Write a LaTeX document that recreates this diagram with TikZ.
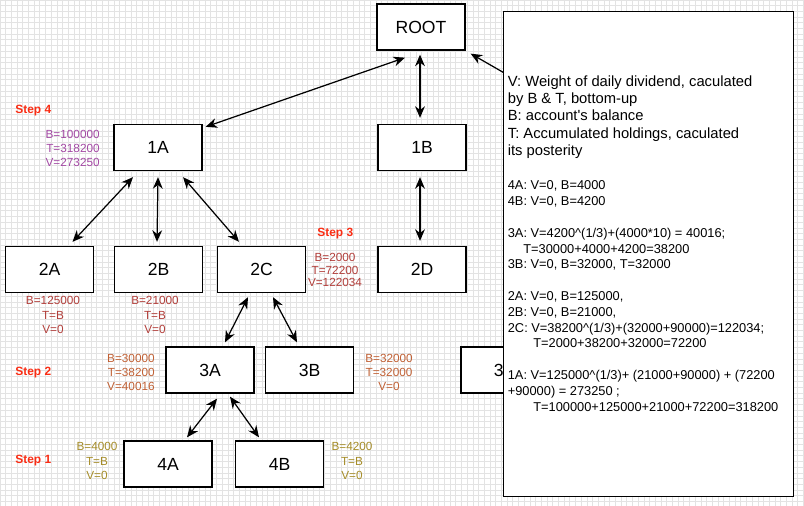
\documentclass[tikz,border=0pt]{standalone}
\usepackage{fontspec}
\setmainfont{Liberation Sans}
\usetikzlibrary{arrows.meta}
\definecolor{steptext}{RGB}{250,45,20}
\definecolor{lvone}{RGB}{163,73,164}
\definecolor{lvtwo}{RGB}{178,62,58}
\definecolor{lvthree}{RGB}{192,96,52}
\definecolor{lvfour}{RGB}{165,140,40}

\begin{document}
\begin{tikzpicture}[x=0.02cm, y=-0.02cm]
\tikzset{every node/.style={font=\fontsize{10}{12}\selectfont},
    acct/.style={draw, line width=0.75pt, fill=white, minimum width=1.76cm, minimum height=0.92cm, inner sep=0pt},
    link/.style={{Stealth[length=6.6pt,width=5.6pt]}-{Stealth[length=6.6pt,width=5.6pt]}, line width=0.7pt},
    steplbl/.style={anchor=west, inner sep=0pt, text=steptext, font=\fontsize{6.8}{8}\selectfont\bfseries},
    vals/.style={inner sep=0pt, align=center, font=\fontsize{6.7}{8.1}\selectfont},
    notebox/.style={draw, line width=0.6pt, fill=white, anchor=north west, minimum width=5.8cm, minimum height=9.7cm},
    notetext/.style={anchor=north west, inner sep=0pt, align=left}}
    \useasboundingbox (0,0) rectangle (804,506);
    \draw[draw=black!11, line width=0.5pt, step=0.114cm] (0,506) grid (804,0);

    \node[acct] (root) at (421,27) {ROOT};
    \node[acct] (a1) at (158,147.5) {1A};
    \node[acct] (b1) at (422,147.5) {1B};
    \node[acct] (a2) at (49.5,269.5) {2A};
    \node[acct] (b2) at (158.5,269.5) {2B};
    \node[acct] (c2) at (261.5,269.5) {2C};
    \node[acct] (d2) at (422,269.5) {2D};
    \node[acct] (a3) at (210,370) {3A};
    \node[acct] (b3) at (309.5,370) {3B};
    \node[acct] (c3) at (505,370) {3C};
    \node[acct] (a4) at (168,464) {4A};
    \node[acct] (b4) at (279.5,464) {4B};
    \coordinate (hid) at (560,105);

    \draw[link] ([shift={(3,3)}]a1.north east) -- ([shift={(-16,7)}]root.south);
    \draw[link] ([shift={(-1,4)}]root.south) -- ([shift={(-2,-6)}]b1.north);
    \draw[link] ([shift={(5,3)}]root.south east) -- (hid);
    \draw[link] ([shift={(-25,6)}]a1.south) -- ([shift={(23,-4)}]a2.north);
    \draw[link] ([shift={(0,6)}]a1.south) -- ([shift={(-1.5,-4)}]b2.north);
    \draw[link] ([shift={(25,6)}]a1.south) -- ([shift={(-22.5,-4)}]c2.north);
    \draw[link] ([shift={(-2,6)}]b1.south) -- ([shift={(-2,-5)}]d2.north);
    \draw[link] ([shift={(-13.5,4)}]c2.south) -- ([shift={(15,-4)}]a3.north);
    \draw[link] ([shift={(11.5,4)}]c2.south) -- ([shift={(-12.5,-4)}]b3.north);
    \draw[link] ([shift={(7,5)}]a3.south) -- ([shift={(19,-3)}]a4.north);
    \draw[link] ([shift={(20,3)}]a3.south) -- ([shift={(-20.5,-3)}]b4.north);

    \node[steplbl] (s4) at (15,111) {Step 4};
    \node[steplbl] (s3) at (317,234) {Step 3};
    \node[steplbl] (s2) at (15,373) {Step 2};
    \node[steplbl] (s1) at (15,461) {Step 1};

    \node[vals, text=lvone, anchor=east, align=right] (a1v) at (100,148.5) {B=100000\\T=318200\\V=273250};
    \node[vals, text=lvtwo] (a2v) at (53,315) {B=125000\\T=B\\V=0};
    \node[vals, text=lvtwo] (b2v) at (155,315) {B=21000\\T=B\\V=0};
    \node[vals, text=lvtwo, font=\fontsize{6.7}{7.3}\selectfont] (c2v) at (335,270) {B=2000\\T=72200\\V=122034};
    \node[vals, text=lvthree, anchor=east, align=right] (a3v) at (155,372.5) {B=30000\\T=38200\\V=40016};
    \node[vals, text=lvthree] (b3v) at (389,372.5) {B=32000\\T=32000\\V=0};
    \node[vals, text=lvfour] (a4v) at (97,461) {B=4000\\T=B\\V=0};
    \node[vals, text=lvfour] (b4v) at (352,461) {B=4200\\T=B\\V=0};

    \node[notebox] (notes) at (503,11) {};
    \node[notetext, font=\fontsize{8.4}{9.9}\selectfont] (legend) at (507.5,75) {V: Weight of daily dividend, caculated\\by B \& T, bottom-up\\B: account\textquotesingle s balance\\T: Accumulated holdings, caculated\\its posterity};
    \node[notetext, font=\fontsize{7.3}{9}\selectfont] (calc) at (507.5,180.5) {4A: V=0, B=4000\\4B: V=0, B=4200\\[9pt]
        3A: V=4200\textasciicircum(1/3)+(4000*10) = 40016;\\\hspace*{8.8pt}T=30000+4000+4200=38200\\3B: V=0, B=32000, T=32000\\[9pt]
        2A: V=0, B=125000,\\2B: V=0, B=21000,\\2C: V=38200\textasciicircum(1/3)+(32000+90000)=122034;\\\hspace*{14.5pt}T=2000+38200+32000=72200\\[9pt]
        1A: V=125000\textasciicircum(1/3)+ (21000+90000) + (72200\\+90000) = 273250 ;\\\hspace*{14.5pt}T=100000+125000+21000+72200=318200};
\end{tikzpicture}
\end{document}
